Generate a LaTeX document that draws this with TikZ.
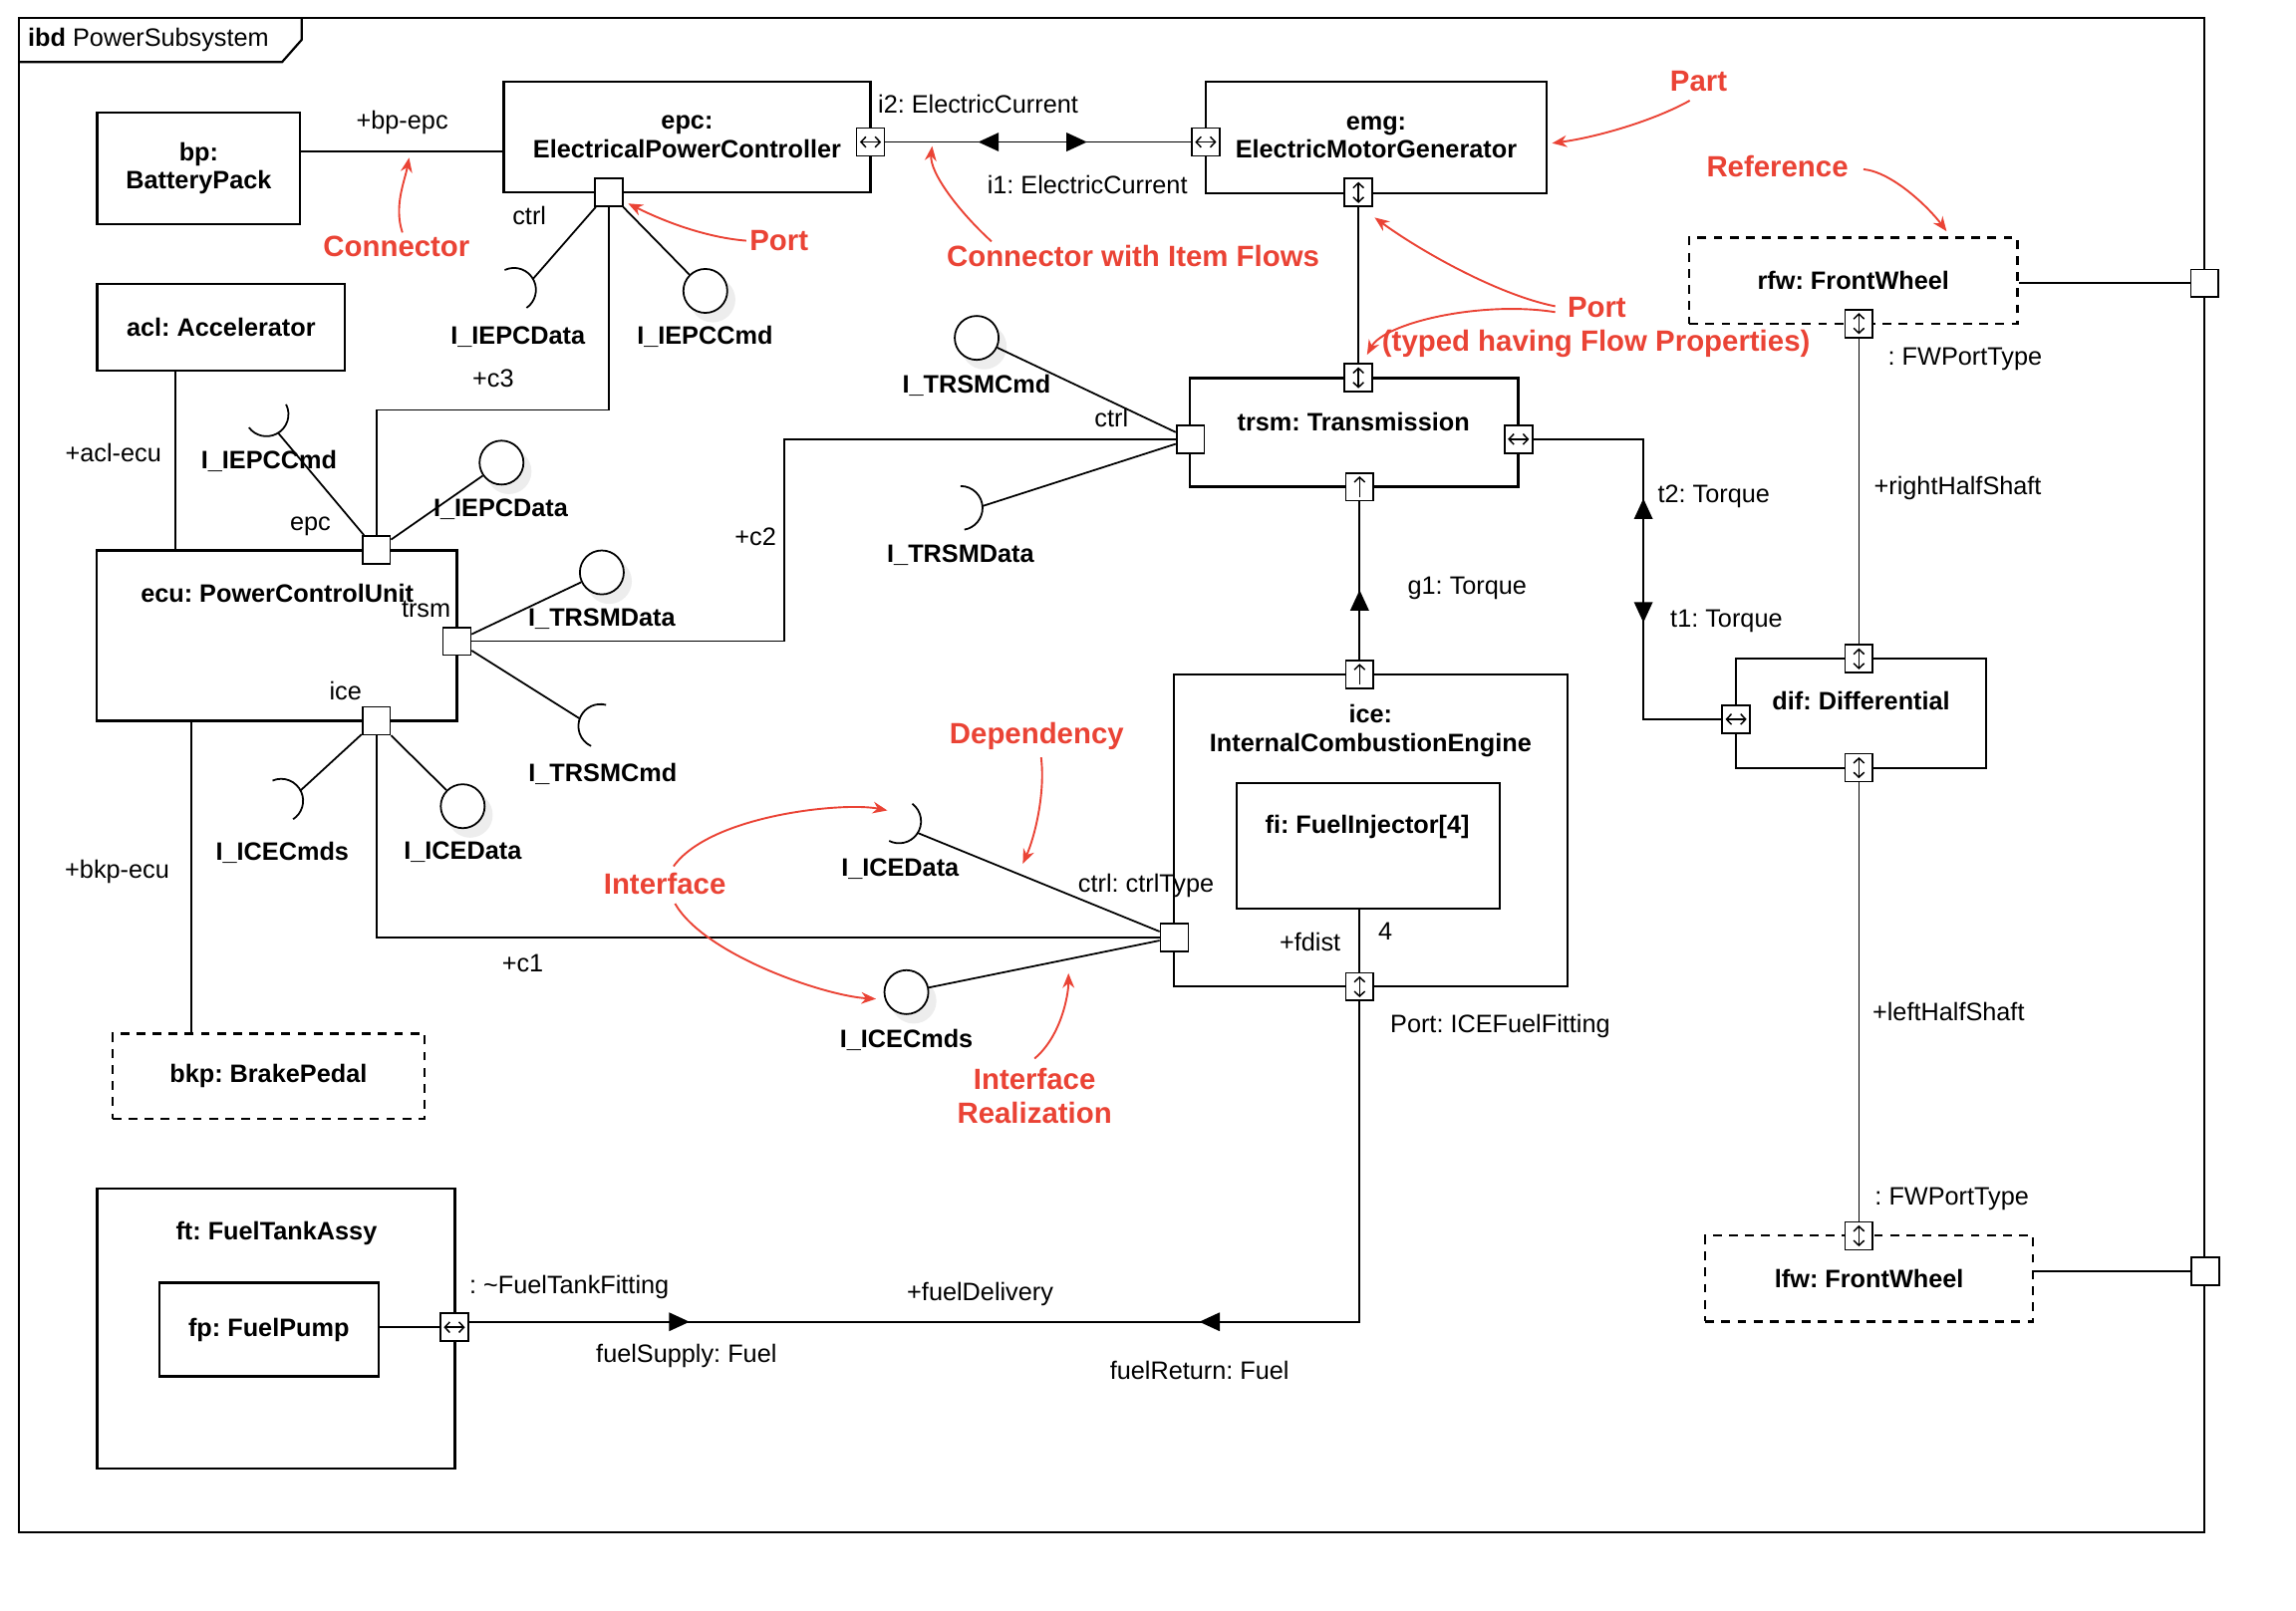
\documentclass[tikz,border=0pt]{standalone}
\usepackage{fontspec}
\setmainfont{Liberation Sans}
\frenchspacing
\usetikzlibrary{calc,arrows.meta,decorations.markings}
\definecolor{notered}{RGB}{234,67,53}
\tikzset{
every node/.style={font=\fontsize{8.6}{9.8}\selectfont},
part/.style={draw, line width=0.75pt, inner sep=1pt, align=center, font=\fontsize{8.6}{9.8}\selectfont\bfseries},
refpart/.style={part, dash pattern=on 3pt off 2.5pt},
pname/.style={font=\fontsize{8.6}{9.8}\selectfont\bfseries, align=center},
ifname/.style={font=\fontsize{8.6}{9.8}\selectfont\bfseries},
conn/.style={line width=0.6pt},
frame/.style={line width=0.75pt},
portsym/.style={line width=0.5pt},
port/.style={draw, fill=white, line width=0.6pt, minimum size=9.5pt, inner sep=0pt},
portlr/.style={port, path picture={\draw[portsym, {Straight Barb[length=1.7pt,width=3.6pt]}-{Straight Barb[length=1.7pt,width=3.6pt]}] ($(path picture bounding box.west)!0.12!(path picture bounding box.east)$) -- ($(path picture bounding box.west)!0.88!(path picture bounding box.east)$);}},
portud/.style={port, path picture={\draw[portsym, {Straight Barb[length=1.7pt,width=3.6pt]}-{Straight Barb[length=1.7pt,width=3.6pt]}] ($(path picture bounding box.north)!0.12!(path picture bounding box.south)$) -- ($(path picture bounding box.north)!0.88!(path picture bounding box.south)$);}},
portup/.style={port, path picture={\draw[portsym, -{Straight Barb[length=1.7pt,width=3.6pt]}] ($(path picture bounding box.south)!0.12!(path picture bounding box.north)$) -- ($(path picture bounding box.south)!0.88!(path picture bounding box.north)$);}},
ball/.style={circle, draw, fill=white, line width=0.6pt, minimum size=15pt, inner sep=0pt},
note/.style={text=notered, inner sep=1pt, font=\fontsize{10}{11.8}\selectfont\bfseries, align=center},
notearr/.style={draw=notered, line width=0.65pt, -{Stealth[length=5pt,width=4pt]}},
flowtip/.tip={Triangle[length=7pt,width=6.3pt]},
}
% required interface: name, x, y, facing angle
\newcommand{\socket}[4]{%
\coordinate (#1) at ($(#2,#3)+(#4:15)$);
\draw[conn] ($(#2,#3)+(#4-85:15)$) arc[start angle=#4-85, end angle=#4+85, radius=15];}
% provided interface: name, x, y
\newcommand{\ball}[3]{%
\fill[black!7] (#2+5,#3+6) circle[radius=15.5];
\node[ball] (#1) at (#2,#3) {};}

\begin{document}
\begin{tikzpicture}[x=0.5pt,y=0.5pt,yscale=-1]
\useasboundingbox (0,0) rectangle (1568,1100);
%Frame
\draw[frame] (12.9,12.4) rectangle (1505.5,1046.6);
\draw[frame] (12.9,42.4) -- (192.6,42.4) -- (206,27.2) -- (206,12.4);
\node[anchor=west, inner sep=0pt] (title) at (18.8,27.2) {\textbf{ibd} PowerSubsystem};
%Parts
\node[part, minimum width=69.3pt, minimum height=38pt] (bp) at (135.7,115) {bp:\\BatteryPack};
\node[part, minimum width=125.2pt, minimum height=37.9pt] (epc) at (469.2,93.6) {epc:\\ElectricalPowerController};
\node[part, minimum width=116.2pt, minimum height=38.2pt] (emg) at (939.8,93.8) {emg:\\ElectricMotorGenerator};
\node[part, minimum width=112pt, minimum height=37.1pt] (trsm) at (924.8,295.3) {};
\node[pname] (trsmName) at (924.3,288.1) {trsm: Transmission};
\node[part, minimum width=84.6pt, minimum height=29.5pt] (acl) at (151,223.4) {acl: Accelerator};
\node[part, minimum width=123pt, minimum height=58.2pt] (ecu) at (189,434.2) {};
\node[pname] (ecuName) at (189.3,405.1) {ecu: PowerControlUnit};
\node[refpart, minimum width=112pt, minimum height=29.3pt] (rfw) at (1265.7,191.6) {rfw: FrontWheel};
\node[part, minimum width=85.6pt, minimum height=37.5pt] (dif) at (1270.9,487.2) {};
\node[pname] (difName) at (1271,479) {dif: Differential};
\node[refpart, minimum width=111.9pt, minimum height=29.3pt] (lfw) at (1276.5,873.4) {lfw: FrontWheel};
\node[refpart, minimum width=106.5pt, minimum height=29.2pt] (bkp) at (183.3,735.2) {bkp: BrakePedal};
\node[part, minimum width=134.4pt, minimum height=106.7pt] (ice) at (936.2,567.3) {};
\node[pname] (iceName) at (936,499) {ice:\\InternalCombustionEngine};
\node[part, minimum width=89.6pt, minimum height=42.8pt] (fi) at (934.4,577.8) {};
\node[pname] (fiName) at (933.8,565) {fi: FuelInjector[4]};
\node[part, minimum width=122.1pt, minimum height=95.5pt] (ft) at (188.5,907.5) {};
\node[pname] (ftName) at (188.8,842.5) {ft: FuelTankAssy};
\node[part, minimum width=74.9pt, minimum height=32pt] (fp) at (183.6,908.2) {fp: FuelPump};
%Ports
\node[portlr] (pEpcR) at (594.5,97) {};
\node[port] (pEpcCtrl) at (415.7,131.3) {};
\node[portlr] (pEmgL) at (823.4,97) {};
\node[portud] (pEmgB) at (927.7,131.5) {};
\node[portud] (pTrsmT) at (927.7,258) {};
\node[port] (pTrsmL) at (813,300) {};
\node[portlr] (pTrsmR) at (1037,300) {};
\node[portup] (pTrsmB) at (928.5,332.5) {};
\node[portud] (pRfwB) at (1269.5,221) {};
\node[port] (pFrame1) at (1505.6,193.5) {};
\node[portud] (pDifT) at (1269.5,450) {};
\node[portlr] (pDifL) at (1185.6,491.3) {};
\node[portud] (pDifB) at (1269.5,524.4) {};
\node[portud] (pLfwT) at (1269.5,844.2) {};
\node[port] (pFrame2) at (1506,868.3) {};
\node[port] (pEcuEpc) at (257,375.6) {};
\node[port] (pEcuTrsm) at (312,438) {};
\node[port] (pEcuIce) at (257,492.4) {};
\node[portup] (pIceT) at (928.5,460.6) {};
\node[port] (pIceCtrl) at (802,640.4) {};
\node[portud] (pIceB) at (928.5,674) {};
\node[portlr] (pFtR) at (310.3,906.6) {};
%Connectors
\coordinate (bpepc) at (275,103.6);
\draw[conn] (bp.east |- bpepc) -- (epc.west |- bpepc);
\draw[conn, postaction={decorate}, decoration={markings,
  mark=at position 0.304 with {\arrowreversed{flowtip}},
  mark=at position 0.66 with {\arrow{flowtip}}}] (pEpcR) -- (pEmgL);
\draw[conn] (pEmgB) -- (pTrsmT);
\draw[conn] (pEpcCtrl.south) -- ++(0,138.6) -| (pEcuEpc.north);
\draw[conn] (pTrsmL.west) -- ++(-267.5,0) |- (pEcuTrsm.east);
\draw[conn, postaction={decorate}, decoration={markings,
  mark=at position 0.362 with {\arrowreversed{flowtip}},
  mark=at position 0.627 with {\arrow{flowtip}}}] (pTrsmR.east) -- ++(75.2,0) |- (pDifL.west);
\draw[conn, postaction={decorate}, decoration={markings,
  mark=at position 0.44 with {\arrow{flowtip}}}] (pIceT.north) -- (pTrsmB.south);
\draw[conn] (pRfwB) -- (pDifT);
\draw[conn] (pDifB) -- (pLfwT);
\draw[conn] (rfw.east |- pFrame1) -- (pFrame1.west);
\draw[conn] (lfw.east |- pFrame2) -- (pFrame2.west);
\coordinate (aclecu) at (119.8,300);
\draw[conn] (acl.south -| aclecu) -- (ecu.north -| aclecu);
\coordinate (bkpecu) at (130.9,600);
\draw[conn] (ecu.south -| bkpecu) -- (bkp.north -| bkpecu);
\draw[conn] (pEcuIce.south) |- (pIceCtrl.west);
\draw[conn, postaction={decorate}, decoration={markings,
  mark=at position 0.397 with {\arrow{flowtip}},
  mark=at position 0.818 with {\arrowreversed{flowtip}}}] (pIceB.south) |- ($(pFtR.east)+(0,-3.7)$);
\draw[conn] (fp.east |- pFtR) -- (pFtR.west);
\draw[conn] (fi.south -| pIceB) -- (pIceB.north);
%Interfaces
\socket{sIepcData}{351}{198}{-30}
\ball{bIepcCmd}{481.7}{198.7}
\draw[conn] (pEpcCtrl) -- (sIepcData);
\draw[conn] (pEpcCtrl) -- (bIepcCmd);
\socket{sIepcCmd}{182}{283}{58}
\ball{bIepcData}{342.5}{316}
\draw[conn] (pEcuEpc) -- (sIepcCmd);
\draw[conn] (pEcuEpc) -- (bIepcData);
\ball{bTrsmDataE}{411}{391}
\socket{sTrsmCmdE}{410}{496}{200}
\draw[conn] (pEcuTrsm) -- (bTrsmDataE);
\draw[conn] (pEcuTrsm) -- (sTrsmCmdE);
\socket{sIceCmdsF}{192}{547}{-28}
\ball{bIceDataF}{316}{550.7}
\draw[conn] (pEcuIce) -- (sIceCmdsF);
\draw[conn] (pEcuIce) -- (bIceDataF);
\ball{bTrsmCmdT}{667}{230.8}
\socket{sTrsmDataT}{656}{347}{-5}
\draw[conn] (pTrsmL) -- (bTrsmCmdT);
\draw[conn] (pTrsmL) -- (sTrsmDataT);
\socket{sIceDataI}{614}{561}{32}
\ball{bIceCmdsI}{619}{677.7}
\draw[conn] (pIceCtrl) -- (sIceDataI);
\draw[conn] (pIceCtrl) -- (bIceCmdsI);
%Interface names
\node[ifname] (nIepcDataA) at (353.7,230) {I\_IEPCData};
\node[ifname] (nIepcCmdA) at (481.4,230) {I\_IEPCCmd};
\node[ifname] (nIepcCmdB) at (183.7,315.2) {I\_IEPCCmd};
\node[ifname] (nIepcDataB) at (342,347.8) {I\_IEPCData};
\node[ifname] (nTrsmDataE) at (411,422.6) {I\_TRSMData};
\node[ifname] (nTrsmCmdE) at (411.6,528.9) {I\_TRSMCmd};
\node[ifname] (nIceCmdsF) at (192.8,582.3) {I\_ICECmds};
\node[ifname] (nIceDataF) at (316,582.3) {I\_ICEData};
\node[ifname] (nTrsmCmdT) at (666.9,263.2) {I\_TRSMCmd};
\node[ifname] (nTrsmDataT) at (656,379) {I\_TRSMData};
\node[ifname] (nIceDataI) at (614.7,593.3) {I\_ICEData};
\node[ifname] (nIceCmdsI) at (619,710.2) {I\_ICECmds};
%Labels
\node (lBpEpc) at (274.7,83.4) {+bp-epc};
\node (lCtrlA) at (361.5,147.4) {ctrl};
\node (lC3) at (336.8,258.5) {+c3};
\node (lI2) at (668,70.8) {i2: ElectricCurrent};
\node (lI1) at (742.6,125.9) {i1: ElectricCurrent};
\node (lCtrlT) at (759,285.2) {ctrl};
\node (lC2) at (516,367) {+c2};
\node (lT2) at (1170.4,339.4) {t2: Torque};
\node (lT1) at (1179,424.5) {t1: Torque};
\node (lG1) at (1002,402) {g1: Torque};
\node (lFwA) at (1342,245.2) {: FWPortType};
\node (lRhs) at (1337,333.3) {+rightHalfShaft};
\node (lLhs) at (1330.7,691.4) {+leftHalfShaft};
\node (lFwB) at (1333,819) {: FWPortType};
\node (lAclEcu) at (77.4,309) {+acl-ecu};
\node (lEpc) at (212,359.6) {epc};
\node (lTrsm) at (291,416) {trsm};
\node (lIce) at (236,471.6) {ice};
\node (lC1) at (357,657.8) {+c1};
\node (lBkpEcu) at (80,595.3) {+bkp-ecu};
\node (lCtrlType) at (782.7,604.7) {ctrl: ctrlType};
\node (lFdist) at (894.7,643.3) {+fdist};
\node (lFour) at (946,636.4) {4};
\node (lFuelFit) at (1024.5,701) {Port: ICEFuelFitting};
\node (lDelivery) at (669.4,884) {+fuelDelivery};
\node (lSupply) at (468.8,926) {fuelSupply: Fuel};
\node (lReturn) at (819.2,936.1) {fuelReturn: Fuel};
\node (lTankFit) at (388.7,879.1) {: \textasciitilde FuelTankFitting};
%Notes
\node[note] (aConn) at (270.8,168.3) {Connector};
\node[note] (aPortA) at (532,164.4) {Port};
\node[note] (aCwif) at (773.8,174.7) {Connector with Item Flows};
\node[note] (aPart) at (1160,55.3) {Part};
\node[note] (aRef) at (1213.8,113.6) {Reference};
\node[note] (aPortB) at (1090.5,210.2) {Port};
\node[note] (aTyped) at (1090,235) {(typed having Flow Properties)};
\node[note] (aDep) at (708,502.6) {Dependency};
\node[note] (aIf) at (454,603.5) {Interface};
\node[note] (aIR) at (706.5,748.6) {Interface\\Realization};
\coordinate (tConn) at (279.4,107.7);
\coordinate (tPortA) at (429,139);
\coordinate (tCwif) at (636.6,99.8);
\coordinate (tPart) at (1060,97.8);
\coordinate (tRef) at (1329.4,158);
\coordinate (tPortB1) at (938.8,148.6);
\coordinate (tPortB2) at (933.6,242.3);
\coordinate (tDep) at (698.5,590);
\coordinate (tIfA) at (606,553.6);
\coordinate (tIfB) at (598.2,682.3);
\coordinate (tIR) at (729.7,664.8);
\draw[notearr] ($(aConn.north)+(4,0)$) .. controls +(-6,-18) and +(-3,16) .. (tConn);
\draw[notearr] (aPortA.west) .. controls +(-25,-2) and +(28,14) .. (tPortA);
\draw[notearr] ($(aCwif.north west)+(33,0)$) .. controls +(-22,-20) and +(-2,18) .. (tCwif);
\draw[notearr] ($(aPart.south)+(-6,4)$) .. controls +(-25,14) and +(30,-4) .. (tPart);
\draw[notearr] ($(aRef.east)+(8,2)$) .. controls +(20,2) and +(-12,-16) .. (tRef);
\draw[notearr] ($(aPortB.west)+(-6,-1)$) .. controls +(-40,-8) and +(30,22) .. (tPortB1);
\draw[notearr] ($(aPortB.west)+(-6,3)$) .. controls +(-50,-8) and +(12,-22) .. (tPortB2);
\draw[notearr] ($(aDep.south)+(3,3)$) .. controls +(3,25) and +(8,-18) .. (tDep);
\draw[notearr] ($(aIf.north)+(6,-2)$) .. controls +(25,-35) and +(-30,-6) .. (tIfA);
\draw[notearr] ($(aIf.south)+(7,4)$) .. controls +(20,35) and +(-35,-2) .. (tIfB);
\draw[notearr] ($(aIR.north)+(0,-4)$) .. controls +(18,-15) and +(0,15) .. (tIR);
\end{tikzpicture}
\end{document}
